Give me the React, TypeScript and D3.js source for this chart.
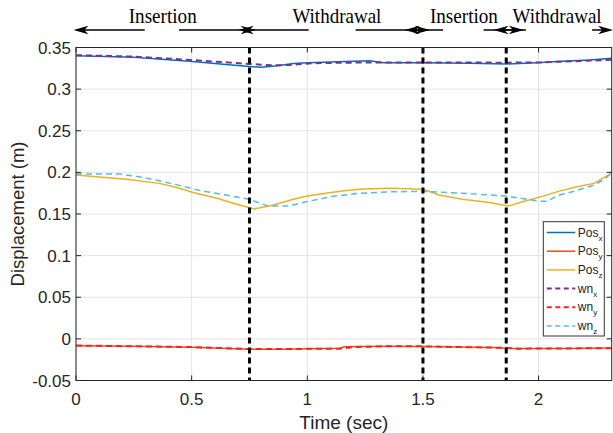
import React from 'react';
import * as d3 from 'd3';

const W = 613;
const H = 433;

// ---- data (time in s, displacement in m) ----
const posX: [number, number][] = [
  [0, 0.3402], [0.25, 0.3382], [0.49, 0.3335], [0.71, 0.3280], [0.8, 0.3262], [0.87, 0.3280],
  [0.94, 0.3308], [1.0, 0.3318], [1.13, 0.3330], [1.27, 0.3341], [1.33, 0.3317], [1.5, 0.3317],
  [1.7, 0.3310], [1.86, 0.3302], [1.99, 0.3317], [2.1, 0.3335], [2.22, 0.3350], [2.316, 0.3372],
];
const posY: [number, number][] = [
  [0, -0.0082], [0.25, -0.0090], [0.5, -0.0100], [0.75, -0.0125], [0.9, -0.0124], [1.0, -0.0118],
  [1.14, -0.0113], [1.16, -0.0095], [1.33, -0.0090], [1.5, -0.0093], [1.8, -0.0103], [1.88, -0.0117],
  [2.1, -0.0115], [2.316, -0.0110],
];
const posZ: [number, number][] = [
  [0, 0.1968], [0.1, 0.1945], [0.22, 0.1918], [0.36, 0.1868], [0.44, 0.1815], [0.51, 0.1755],
  [0.61, 0.1688], [0.68, 0.1630], [0.77, 0.1559], [0.85, 0.1605], [0.94, 0.1678], [1.0, 0.1715],
  [1.08, 0.1748], [1.16, 0.1778], [1.24, 0.1800], [1.36, 0.1808], [1.5, 0.1796], [1.57, 0.1728],
  [1.67, 0.1676], [1.78, 0.1640], [1.87, 0.1595], [1.93, 0.1647], [2.02, 0.1715], [2.09, 0.1775],
  [2.165, 0.1827], [2.24, 0.1868], [2.316, 0.1990],
];
const wnX: [number, number][] = [
  [0, 0.3408], [0.25, 0.3390], [0.5, 0.3350], [0.75, 0.3302], [0.85, 0.3286], [0.92, 0.3290],
  [1.02, 0.3310], [1.15, 0.3318], [1.5, 0.3320], [1.86, 0.3318], [2.0, 0.3320], [2.15, 0.3335],
  [2.316, 0.3352],
];
const wnY: [number, number][] = [
  [0, -0.0080], [0.5, -0.0098], [0.75, -0.0122], [1.0, -0.0120], [1.14, -0.0118], [1.2, -0.0098],
  [1.33, -0.0090], [1.5, -0.0090], [1.86, -0.0108], [1.9, -0.0118], [2.316, -0.0112],
];
const wnZ: [number, number][] = [
  [0, 0.1980], [0.19, 0.1980], [0.29, 0.1940], [0.41, 0.1868], [0.54, 0.1780], [0.65, 0.1727],
  [0.75, 0.1676], [0.83, 0.1595], [0.92, 0.1595], [1.0, 0.1650], [1.11, 0.1712], [1.23, 0.1750],
  [1.36, 0.1767], [1.5, 0.1772], [1.7, 0.1745], [1.86, 0.1715], [2.0, 0.1655], [2.04, 0.1652],
  [2.08, 0.1720], [2.15, 0.1770], [2.24, 0.1848], [2.28, 0.1910], [2.316, 0.1990],
];

const xTicks = [0, 0.5, 1, 1.5, 2];
const yTicks = [-0.05, 0, 0.05, 0.1, 0.15, 0.2, 0.25, 0.3, 0.35];
const xTickLabels = ['0', '0.5', '1', '1.5', '2'];
const yTickLabels = ['-0.05', '0', '0.05', '0.1', '0.15', '0.2', '0.25', '0.3', '0.35'];

// phase boundaries (s)
const phaseTimes = [0.75, 1.5, 1.86];
// phase annotations (in time units)
const phaseLabels = ['Insertion', 'Withdrawal', 'Insertion', 'Withdrawal'];
const phaseLabelT = [0.375, 1.128, 1.677, 2.08];
const arrowFromT = [0.297, 0.445, 1.006, 1.209, 1.587, 1.762, 1.945, 2.231];
const arrowToT = [-0.011, 0.777, 0.703, 1.53, 1.421, 1.936, 1.805, 2.322];

const seriesNames = ['Pos', 'Pos', 'Pos', 'wn', 'wn', 'wn'];
const seriesSubs = ['x', 'y', 'z', 'x', 'y', 'z'];

const series = [
  { data: posX, color: '#0072BD', dash: null, w: 1.5 },
  { data: posY, color: '#D95319', dash: null, w: 1.5 },
  { data: posZ, color: '#EDB120', dash: null, w: 1.5 },
  { data: wnX, color: '#7E2F8E', dash: '6,4', w: 2 },
  { data: wnY, color: '#FF2020', dash: '6,4', w: 2 },
  { data: wnZ, color: '#4DBEEE', dash: '6,4', w: 1.5 },
];

export default function App() {
  const left = 76, right = 611.7, top = 47.5, bottom = 380.5;
  const x = d3.scaleLinear().domain([0, 2.316]).range([left, right]);
  const y = d3.scaleLinear().domain([-0.05, 0.35]).range([bottom, top]);
  const line = d3.line<[number, number]>().x(d => x(d[0])).y(d => y(d[1]));
  const axisColor = '#262626';
  const gridColor = '#e3e3e3';
  const tickLen = 5;
  const sans = 'Liberation Sans, Arial, Helvetica, sans-serif';
  const serif = 'Liberation Serif, Times New Roman, serif';
  const arrowY = 30;

  const arrowHead = (tip: number, dir: number) => {
    const L = 15, w = 4.2;
    return `M${tip},${arrowY} L${tip - dir * L},${arrowY - w} L${tip - dir * L * 0.72},${arrowY} L${tip - dir * L},${arrowY + w} Z`;
  };

  const legX = 543.3, legY = 221.7, legW = 61, legH = 114.3;
  const legRow = 18.7;

  return (
    <svg width={W} height={H} style={{ position: 'absolute', left: 0, top: 0, background: '#fff' }}>
      <rect x={0} y={0} width={W} height={H} fill="#fff" />
      {/* grid */}
      {xTicks.map((t, i) => (
        <line key={'gx' + i} x1={x(t)} x2={x(t)} y1={top} y2={bottom} stroke={gridColor} strokeWidth={1} />
      ))}
      {yTicks.map((t, i) => (
        <line key={'gy' + i} x1={left} x2={right} y1={y(t)} y2={y(t)} stroke={gridColor} strokeWidth={1} />
      ))}
      {/* series */}
      {series.map((s, i) => (
        <path key={'s' + i} d={line(s.data) || ''} fill="none" stroke={s.color} strokeWidth={s.w}
          strokeDasharray={s.dash || undefined} />
      ))}
      {/* phase boundaries */}
      {phaseTimes.map((t, i) => (
        <line key={'p' + i} x1={x(t)} x2={x(t)} y1={top} y2={bottom} stroke="#000" strokeWidth={3}
          strokeDasharray="6,4" />
      ))}
      {/* box */}
      <rect x={left} y={top} width={right - left} height={bottom - top} fill="none" stroke={axisColor} strokeWidth={1} />
      {/* ticks */}
      {xTicks.map((t, i) => (
        <g key={'xt' + i}>
          <line x1={x(t)} x2={x(t)} y1={bottom} y2={bottom - tickLen} stroke={axisColor} />
          <line x1={x(t)} x2={x(t)} y1={top} y2={top + tickLen} stroke={axisColor} />
          <text x={x(t)} y={405} textAnchor="middle" fontFamily={sans} fontSize={17} fill={axisColor}>{xTickLabels[i]}</text>
        </g>
      ))}
      {yTicks.map((t, i) => (
        <g key={'yt' + i}>
          <line x1={left} x2={left + tickLen} y1={y(t)} y2={y(t)} stroke={axisColor} />
          <line x1={right} x2={right - tickLen} y1={y(t)} y2={y(t)} stroke={axisColor} />
          <text x={71} y={y(t) + 6} textAnchor="end" fontFamily={sans} fontSize={17} fill={axisColor}>{yTickLabels[i]}</text>
        </g>
      ))}
      {/* axis labels */}
      <text x={(left + right) / 2} y={429} textAnchor="middle" fontFamily={sans} fontSize={19} fill={axisColor}>Time (sec)</text>
      <text transform={`translate(24,${(top + bottom) / 2}) rotate(-90)`} textAnchor="middle" fontFamily={sans} fontSize={18.5} fill={axisColor}>Displacement (m)</text>
      {/* phase annotations */}
      {phaseLabels.map((lab, i) => (
        <text key={'pl' + i} x={x(phaseLabelT[i])} y={22.5} textAnchor="middle" fontFamily={serif} fontSize={21}
          textLength={lab === 'Insertion' ? 68 : 89} lengthAdjust="spacingAndGlyphs" fill="#000">{lab}</text>
      ))}
      {arrowFromT.map((f, i) => {
        const a = x(f), b = x(arrowToT[i]);
        const dir = b > a ? 1 : -1;
        return (
          <g key={'ar' + i}>
            <line x1={a} x2={b - dir * 10} y1={arrowY} y2={arrowY} stroke="#000" strokeWidth={1.5} />
            <path d={arrowHead(b, dir)} fill="#000" />
          </g>
        );
      })}
      {/* legend */}
      <rect x={legX} y={legY} width={legW} height={legH} fill="#fff" stroke="#333" strokeWidth={1} />
      {series.map((s, i) => {
        const cy = legY + 10.8 + i * legRow;
        return (
          <g key={'lg' + i}>
            <line x1={legX + 3.5} x2={legX + 32} y1={cy} y2={cy} stroke={s.color} strokeWidth={s.w}
              strokeDasharray={s.dash ? '5,3.5' : undefined} />
            <text x={legX + 34.5} y={cy + 4} fontFamily={sans} fontSize={12} fill="#222">
              {seriesNames[i]}
              <tspan fontSize={8} dy={4}>{seriesSubs[i]}</tspan>
            </text>
          </g>
        );
      })}
    </svg>
  );
}
